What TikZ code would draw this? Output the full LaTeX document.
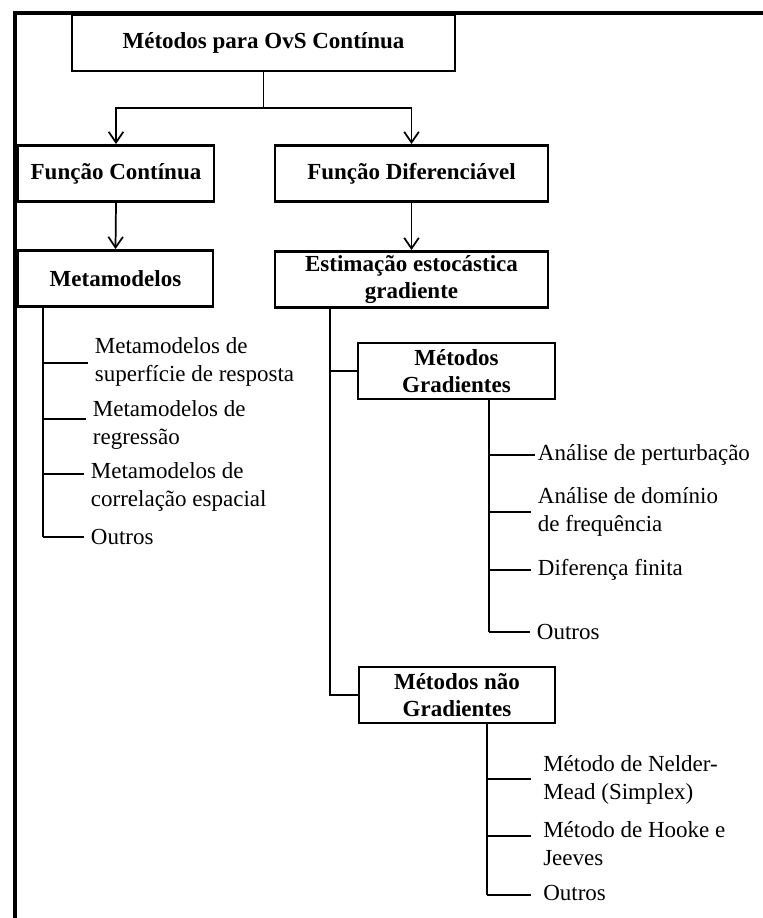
\documentclass[tikz,border=0pt]{standalone}
\usepackage{fontspec}
\setmainfont{Liberation Serif}
\usetikzlibrary{arrows.meta}
\begin{document}
\begin{tikzpicture}[x=0.75pt,y=-0.75pt,
  box/.style={draw, line width=2.2pt, font=\fontsize{17.25pt}{20.5pt}\selectfont\bfseries,
    align=center, inner sep=0pt, minimum height=42pt},
  item/.style={anchor=west, font=\fontsize{17.25pt}{21pt}\selectfont, align=left,
    inner xsep=5pt, inner ysep=0pt},
  link/.style={line width=1.3pt},
  trunk/.style={line width=1.7pt},
  arrowlink/.style={link, -{Straight Barb[length=8pt,width=11pt]}},
  frame/.style={line width=3pt, line join=miter}
]
\useasboundingbox (0,0) rectangle (763,918);

% outer frame (top and left edges)
\coordinate (frameTR) at (763,12.5);
\coordinate (frameTL) at (14.5,12.5);
\coordinate (frameBL) at (14.5,918);
\draw[frame] (frameTR) -- (frameTL) -- (frameBL);

% boxes
\node[box, minimum width=287.25pt] (top)  at (263.5,43)   {Métodos para OvS Contínua};
\node[box, minimum width=147pt]    (fc)   at (116,173.5)  {Função Contínua};
\node[box, minimum width=204.75pt] (fd)   at (411.5,173.5){Função Diferenciável};
\node[box, minimum width=146.25pt] (meta) at (115.5,278.5){Metamodelos};
\node[box, minimum width=204.75pt] (est)  at (411.5,279.5){Estimação estocástica\\gradiente};
\node[box, minimum width=147.75pt] (mg)   at (456.5,371)  {Métodos\\Gradientes};
\node[box, minimum width=147pt]    (mng)  at (457,695)    {Métodos não\\Gradientes};

% top-level split
\coordinate (split) at (263.5,108);
\draw[link] (top.south) -- (split);
\draw[arrowlink] (split) -| (fc.north);
\draw[arrowlink] (split) -| (fd.north);
\draw[arrowlink] (fc.south) -- (meta.north);
\draw[arrowlink] (fd.south) -- (est.north);

% metamodel list
\node[item] (m1) at (88,362) {Metamodelos de\\superfície de resposta};
\node[item] (m2) at (86,425) {Metamodelos de\\regressão};
\node[item] (m3) at (84,487) {Metamodelos de\\correlação espacial};
\node[item] (m4) at (84,537) {Outros};
\coordinate (mtop) at (43,307);
\coordinate (mb1) at (43,363);
\coordinate (mb2) at (43,419);
\coordinate (mb3) at (43,474);
\coordinate (mb4) at (43,537);
\draw[trunk] (mtop) -- (mb4);
\draw[link] (mb1) -- (mb1 -| m1.west);
\draw[link] (mb2) -- (mb2 -| m2.west);
\draw[link] (mb3) -- (mb3 -| m3.west);
\draw[link] (mb4) -- (mb4 -| m4.west);

% stochastic gradient estimation branches
\coordinate (etop) at (330,308);
\draw[trunk] (etop) |- (mg.west);
\draw[trunk] (etop) |- (mng.west);

% gradient methods list
\node[item, inner xsep=2pt] (g1) at (535,455) {Análise de perturbação};
\node[item] (g2) at (531,512) {Análise de domínio\\de frequência};
\node[item] (g3) at (531,570) {Diferença finita};
\node[item] (g4) at (530,632) {Outros};
\coordinate (gtop) at (489,399);
\coordinate (gb1) at (489,455);
\coordinate (gb2) at (489,512);
\coordinate (gb3) at (489,570);
\coordinate (gb4) at (489,632);
\draw[trunk] (gtop) -- (gb4);
\draw[link] (gb1) -- (gb1 -| g1.west);
\draw[link] (gb2) -- (gb2 -| g2.west);
\draw[link] (gb3) -- (gb3 -| g3.west);
\draw[link] (gb4) -- (gb4 -| g4.west);

% non-gradient methods list
\node[item, inner xsep=9pt] (n1) at (531,780) {Método de Nelder-\\Mead (Simplex)};
\node[item, inner xsep=9pt] (n2) at (531,844) {Método de Hooke e\\Jeeves};
\node[item, inner xsep=9pt] (n3) at (531,893) {Outros};
\coordinate (ntop) at (487,723);
\coordinate (nb1) at (487,779);
\coordinate (nb2) at (487,836);
\coordinate (nb3) at (487,895);
\draw[trunk] (ntop) -- (nb3);
\draw[link] (nb1) -- (nb1 -| n1.west);
\draw[link] (nb2) -- (nb2 -| n2.west);
\draw[link] (nb3) -- (nb3 -| n3.west);
\end{tikzpicture}
\end{document}
